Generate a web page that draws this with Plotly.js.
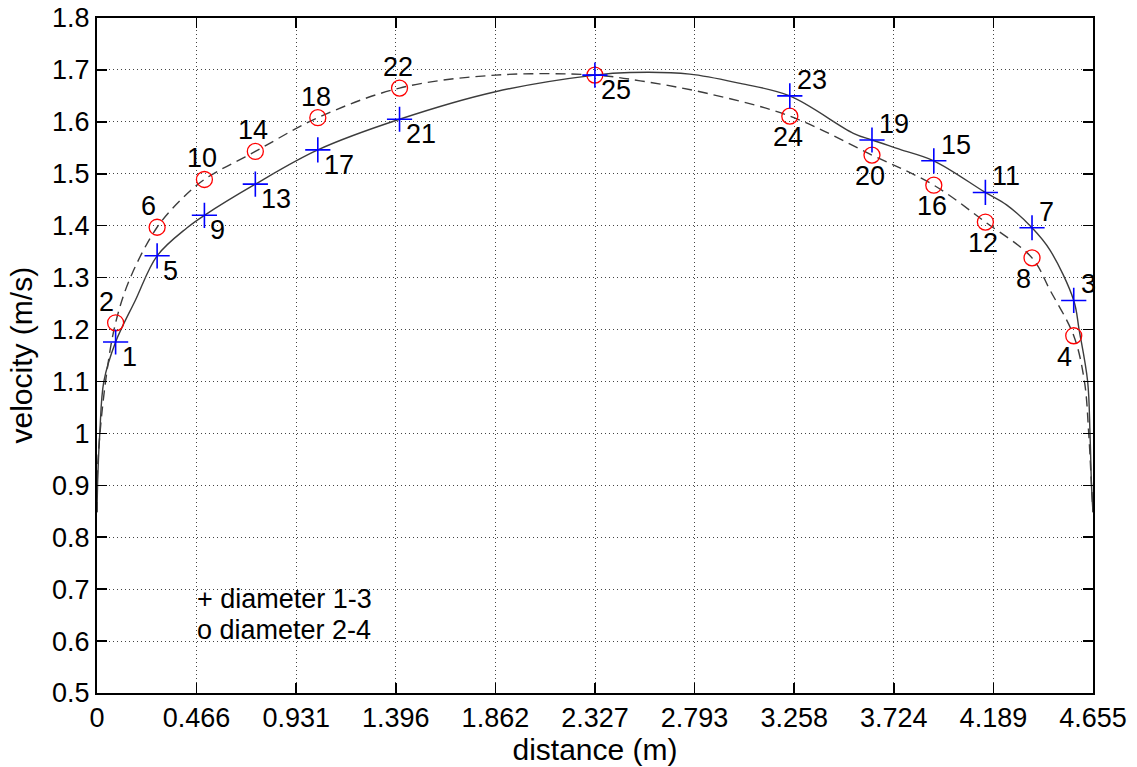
<!DOCTYPE html>
<html>
<head>
<meta charset="utf-8">
<script src="https://cdn.plot.ly/plotly-3.0.1.min.js"></script>
<style>
  html, body { margin: 0; padding: 0; background: #fff; }
  #chart { width: 1137px; height: 767px; }
</style>
</head>
<body>
<div id="chart"></div>
<script>
// Measurement stations across the pipe (m) and the point numbers at each one
const distance = [0.087, 0.281, 0.502, 0.740, 1.032, 1.414, 2.327, 3.238, 3.622, 3.911, 4.152, 4.370, 4.565];
const vel13 = [1.176, 1.342, 1.420, 1.480, 1.546, 1.605, 1.690, 1.650, 1.565, 1.525, 1.464, 1.396, 1.256];
const vel24 = [1.213, 1.397, 1.489, 1.543, 1.608, 1.665, 1.690, 1.611, 1.536, 1.478, 1.407, 1.338, 1.188];
const id13 = [1, 5, 9, 13, 17, 21, 25, 23, 19, 15, 11, 7, 3];
const id24 = [2, 6, 10, 14, 18, 22, 25, 24, 20, 16, 12, 8, 4];

// Extra points of the fitted profiles (near the walls and between stations)
const fit13x = [0.000, 0.004, 0.013, 0.032, 0.180, 0.421, 1.862, 2.490, 2.770, 3.006, 3.535, 3.753, 4.251, 4.454, 4.590, 4.630, 4.641, 4.648, 4.655];
const fit13v = [0.848, 0.920, 1.000, 1.100, 1.257, 1.396, 1.658, 1.695, 1.692, 1.674, 1.578, 1.547, 1.440, 1.353, 1.200, 1.100, 1.000, 0.900, 0.848];
const fit24x = [0.000, 0.005, 0.040, 0.156, 0.390, 1.862, 2.539, 2.850, 4.454, 4.615, 4.635, 4.648, 4.655];
const fit24v = [0.848, 0.950, 1.100, 1.300, 1.449, 1.690, 1.679, 1.655, 1.276, 1.100, 1.000, 0.900, 0.848];

// Axis ticks
const xTickVals = [0, 0.4655, 0.931, 1.3965, 1.862, 2.3275, 2.793, 3.2585, 3.724, 4.1895, 4.655];
const xTickText = ['0', '0.466', '0.931', '1.396', '1.862', '2.327', '2.793', '3.258', '3.724', '4.189', '4.655'];
const yTickVals = [0.5, 0.6, 0.7, 0.8, 0.9, 1.0, 1.1, 1.2, 1.3, 1.4, 1.5, 1.6, 1.7, 1.8];
const yTickText = ['0.5', '0.6', '0.7', '0.8', '0.9', '1', '1.1', '1.2', '1.3', '1.4', '1.5', '1.6', '1.7', '1.8'];

const xTitle = 'distance (m)';
const yTitle = 'velocity (m/s)';
const legendLines = ['+ diameter 1-3', 'o diameter 2-4'];

function mergeProfile(xs, vs, ex, ev) {
  const pts = xs.map((x, i) => [x, vs[i]]).concat(ex.map((x, i) => [x, ev[i]]));
  pts.sort((a, b) => a[0] - b[0]);
  return { x: pts.map(p => p[0]), y: pts.map(p => p[1]) };
}

const prof13 = mergeProfile(distance, vel13, fit13x, fit13v);
const prof24 = mergeProfile(distance, vel24, fit24x, fit24v);

const FONT = 'Liberation Sans, Arial, Helvetica, sans-serif';
const LINE_COLOR = '#3c3c3c';
const TEXT_SIZE = 27;
const TITLE_SIZE = 30;

const traces = [
  {
    x: prof13.x, y: prof13.y, mode: 'lines', type: 'scatter',
    line: { color: LINE_COLOR, width: 1.4, shape: 'spline', smoothing: 1 },
    hoverinfo: 'skip', showlegend: false
  },
  {
    x: prof24.x, y: prof24.y, mode: 'lines', type: 'scatter',
    line: { color: LINE_COLOR, width: 1.4, dash: '10px,6px', shape: 'spline', smoothing: 1 },
    hoverinfo: 'skip', showlegend: false
  },
  {
    x: distance, y: vel24, mode: 'markers', type: 'scatter', name: 'diameter 2-4',
    marker: { symbol: 'circle-open', size: 16, color: '#ff0000', line: { width: 1.3, color: '#ff0000' } },
    showlegend: false
  },
  {
    x: distance, y: vel13, mode: 'markers', type: 'scatter', name: 'diameter 1-3',
    marker: { symbol: 'cross-thin-open', size: 18, color: '#0000ff', line: { width: 1.6, color: '#0000ff' } },
    showlegend: false
  }
];

const annotations = [];
const apex = 6;
id13.forEach((n, i) => {
  const left = i <= apex;
  annotations.push({
    x: distance[i], y: vel13[i], text: String(n), showarrow: false,
    xanchor: 'left', yanchor: 'middle',
    xshift: left ? 4 : 5, yshift: left ? -15 : 16,
    font: { family: FONT, size: TEXT_SIZE, color: '#000' }
  });
});
id24.forEach((n, i) => {
  if (i === apex) return; // shared centre point is numbered once
  const left = i < apex;
  const oneDigit = String(n).length === 1;
  annotations.push({
    x: distance[i], y: vel24[i], text: String(n), showarrow: false,
    xanchor: 'center', yanchor: 'middle',
    xshift: oneDigit ? -9 : -2, yshift: left ? 21 : -21,
    font: { family: FONT, size: TEXT_SIZE, color: '#000' }
  });
});
legendLines.forEach((t, i) => {
  annotations.push({
    x: 0.46, y: [0.682, 0.621][i], text: t, showarrow: false,
    xanchor: 'left', yanchor: 'middle',
    font: { family: FONT, size: TEXT_SIZE, color: '#000' }
  });
});
// Vertical axis title, set just left of the tick labels
annotations.push({
  xref: 'paper', yref: 'paper', x: 0, y: 0.5, xshift: -76,
  text: yTitle, textangle: -90, showarrow: false,
  xanchor: 'center', yanchor: 'middle',
  font: { family: FONT, size: TITLE_SIZE, color: '#000' }
});

const axisCommon = {
  showline: true, linecolor: '#000', linewidth: 2, mirror: 'ticks',
  ticks: 'inside', ticklen: 10, tickwidth: 1.5, tickcolor: '#000',
  showgrid: true, gridcolor: '#444', gridwidth: 1, griddash: '1px,3px',
  zeroline: false, tickfont: { family: FONT, size: TEXT_SIZE, color: '#000' }
};

const layout = {
  width: 1137, height: 767,
  margin: { l: 97, r: 44, t: 18, b: 74 },
  paper_bgcolor: '#fff', plot_bgcolor: '#fff',
  showlegend: false,
  font: { family: FONT, color: '#000' },
  xaxis: Object.assign({}, axisCommon, {
    range: [0, 4.655], tickmode: 'array', tickvals: xTickVals, ticktext: xTickText,
    title: { text: xTitle, font: { family: FONT, size: TITLE_SIZE, color: '#000' }, standoff: 3 }
  }),
  yaxis: Object.assign({}, axisCommon, {
    range: [0.5, 1.8], tickmode: 'array', tickvals: yTickVals, ticktext: yTickText
  }),
  annotations: annotations
};

Plotly.newPlot('chart', traces, layout, { displayModeBar: false, staticPlot: true });
</script>
</body>
</html>
